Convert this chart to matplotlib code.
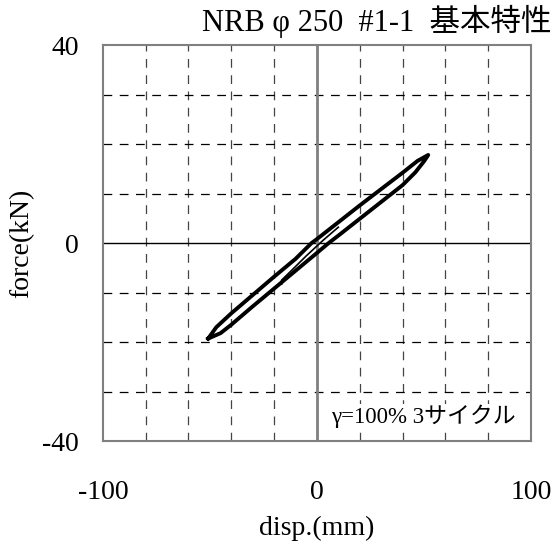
import matplotlib
matplotlib.use("Agg")
import matplotlib.pyplot as plt

plt.rcParams['font.family'] = ['Liberation Serif', 'Noto Sans CJK JP', 'DejaVu Sans']
plt.rcParams['axes.unicode_minus'] = False

# 履歴ループ (disp mm, force kN) - 読み取り値
upper_x = [-50.8, -47, -40, -30, -20, -10, -2.5, 0, 10, 20, 30, 40, 47, 52]
upper_y = [-19.3, -17.0, -14.2, -10.5, -6.8, -3.2, 0.0, 0.8, 4.2, 7.6, 10.9, 14.2, 16.6, 17.8]
lower_x = [52, 50, 46, 40, 30, 20, 10, 5.5, 0, -10, -20, -30, -40, -45, -50.8]
lower_y = [17.8, 16.5, 14.3, 11.7, 8.3, 4.9, 1.5, 0.0, -2.0, -5.6, -9.2, -12.8, -16.5, -18.2, -19.3]
# 初期載荷部分
init_x = [10, 3, -5, -12, -16.5, -16.5]
init_y = [3.2, 0.6, -2.6, -5.6, -7.5, -8.3]

xticks = [-100, 0, 100]
yticks = [-40, 0, 40]
xgrid = [-80, -60, -40, -20, 20, 40, 60, 80]
ygrid = [-30, -20, -10, 10, 20, 30]

title = "NRB φ 250  #1-1  基本特性"
note = "γ=100% 3サイクル"

fig = plt.figure(figsize=(5.56, 5.51), dpi=100)
ax = fig.add_axes([0.185, 0.1996, 0.77, 0.7186])
ax.set_xlim(-100, 100)
ax.set_ylim(-40, 40)

for gx in xgrid:
    ax.axvline(gx, color='#444444', lw=0.9, dashes=(7, 6), zorder=1)
for gy in ygrid:
    ax.axhline(gy, color='black', lw=0.9, dashes=(7, 6), zorder=1)
ax.axhline(0, color='black', lw=1.0, zorder=2)
ax.axvline(0, color='#808080', lw=2.0, zorder=2)

ax.plot(upper_x + lower_x, upper_y + lower_y, color='black', lw=2.8, zorder=3)
ax.plot(init_x, init_y, color='black', lw=1.2, zorder=3)

for s in ax.spines.values():
    s.set_color('#808080')
    s.set_linewidth(1.5)

ax.set_xticks(xticks)
ax.set_yticks(yticks)
ax.tick_params(length=0, labelsize=20)
ax.tick_params(axis='x', pad=28)
ax.tick_params(axis='y', pad=17)
ax.set_xlabel("disp.(mm)", fontsize=20, labelpad=8)
ax.set_ylabel("force(kN)", fontsize=20, labelpad=6)

fig.text(0.992, 0.962, title, fontsize=22, ha='right', va='center')
ax.text(6.5, -35, note, fontsize=16.5, ha='left', va='center', zorder=4,
        bbox=dict(facecolor='white', edgecolor='none', pad=0.5))

fig.savefig("out.png", dpi=100)
